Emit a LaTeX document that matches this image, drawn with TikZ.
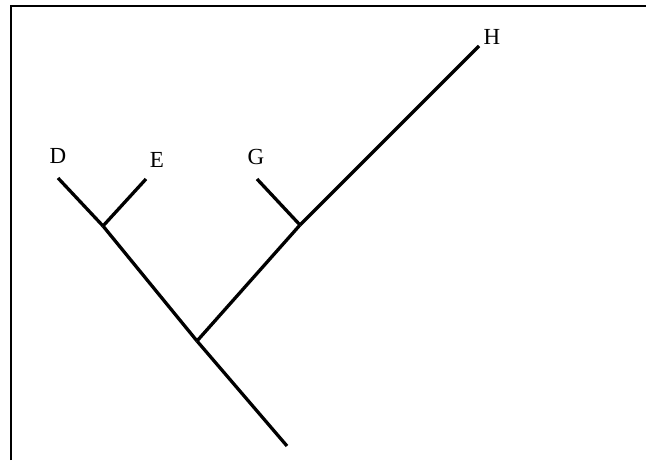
\documentclass[tikz,border=0pt]{standalone}
\usepackage{fontspec}
\setmainfont{Liberation Serif}
\usetikzlibrary{positioning}

\begin{document}
\begin{tikzpicture}[x=1pt, y=-1pt,
      branch/.style={line width=3.3pt, black},
      frame/.style={line width=1.5pt, black},
      taxon/.style={font=\fontsize{23}{23}\selectfont, inner sep=0pt},
    ]
    \useasboundingbox (0,0) rectangle (647,460);
    \fill[white] (0,0) rectangle (647,460);

    % tips and junctions
    \coordinate (d) at (58,178);
    \coordinate (e) at (146,179);
    \coordinate (g) at (257,179);
    \coordinate (h) at (479,46);
    \coordinate (de) at (103,226);
    \coordinate (gh) at (300,225);
    \coordinate (root) at (197,341);
    \coordinate (base) at (287,446);

    \node[taxon] (labd) at (58,156) {D};
    \node[taxon] (labe) at (157,160) {E};
    \node[taxon] (labg) at (256,157) {G};
    \node[taxon] (labh) at (492,37) {H};

    \draw[branch] (d) -- (de);
    \draw[branch] (e) -- (de);
    \draw[branch] (de) -- (root);
    \draw[branch] (root) -- (base);
    \draw[branch] (root) -- (gh);
    \draw[branch] (g) -- (gh);
    \draw[branch] (gh) -- (h);

    \draw[frame] (11,460) -- (11,6) -- (646,6);
  \end{tikzpicture}
\end{document}
